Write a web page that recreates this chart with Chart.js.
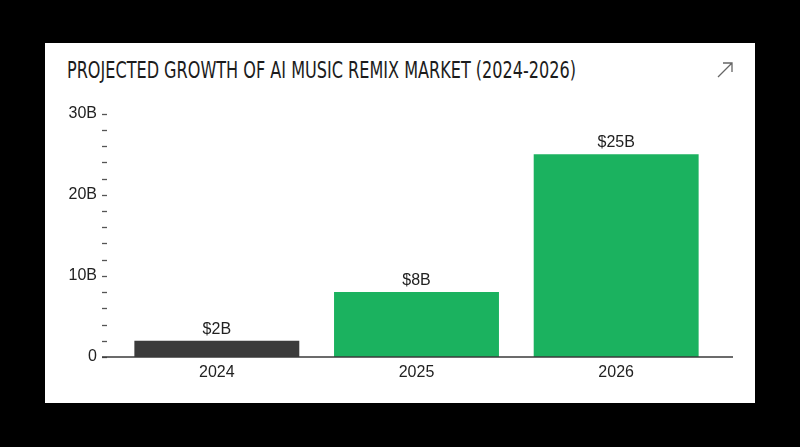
<!DOCTYPE html>
<html>
<head>
<meta charset="utf-8">
<script src="https://cdn.jsdelivr.net/npm/chart.js@4"></script>
<style>
  html, body { margin: 0; padding: 0; background: #000; width: 800px; height: 447px; overflow: hidden; }
  #card { position: absolute; left: 45px; top: 43px; width: 710px; height: 360px; background: #fff; }
  #title { position: absolute; left: 22px; top: 14px; font-family: "Liberation Sans Narrow", "DejaVu Sans Condensed", sans-serif;
           font-size: 23px; color: #1c1c1c; white-space: nowrap; transform-origin: 0 0; }
  #icon { position: absolute; left: 671px; top: 18px; }
  #wrap { position: absolute; left: 0; top: 41px; width: 710px; height: 316px; }
</style>
</head>
<body>
<div id="card">
  <div id="title">PROJECTED GROWTH OF AI MUSIC REMIX MARKET (2024-2026)</div>
  <svg id="icon" width="18" height="18" viewBox="0 0 18 18">
    <path d="M2 16 L16 2 M7 2 L16 2 L16 11" fill="none" stroke="#666" stroke-width="1.3"/>
  </svg>
  <div id="wrap"><canvas id="chart"></canvas></div>
</div>
<script>
const years = ['2024', '2025', '2026'];
const marketSize = [2, 8, 25]; // billions USD
const valueLabels = ['$2B', '$8B', '$25B'];
const barColors = ['#3b3b3b', '#1bb25f', '#1bb25f'];

const fontFamily = '"Liberation Sans", Arial, sans-serif';

// squeeze the title to the condensed width of the original
const title = document.getElementById('title');
title.style.transform = 'scaleX(' + (509 / title.offsetWidth) + ')';

// y tick dashes, baseline and value labels
const extras = {
    id: 'extras',
    afterDatasetsDraw(chart) {
        const ctx = chart.ctx;
        const area = chart.chartArea;
        const y = chart.scales.y;
        ctx.save();
        ctx.strokeStyle = '#555';
        ctx.lineWidth = 1.3;
        y.ticks.forEach(t => {
            const py = Math.round(y.getPixelForValue(t.value)) + 0.5;
            ctx.beginPath();
            ctx.moveTo(area.left - 15, py);
            ctx.lineTo(area.left - 10, py);
            ctx.stroke();
        });
        // x baseline
        ctx.strokeStyle = '#3a3a3a';
        ctx.lineWidth = 1.5;
        const by = y.getPixelForValue(0);
        ctx.beginPath();
        ctx.moveTo(area.left - 15, by);
        ctx.lineTo(area.right + 17, by);
        ctx.stroke();
        // value labels
        ctx.fillStyle = '#222';
        ctx.font = '16px ' + fontFamily;
        ctx.textAlign = 'center';
        ctx.textBaseline = 'alphabetic';
        chart.getDatasetMeta(0).data.forEach((bar, i) => {
            ctx.fillText(valueLabels[i], bar.x, bar.y - 7);
        });
        ctx.restore();
    }
};

new Chart(document.getElementById('chart'), {
    type: 'bar',
    data: {
        labels: years,
        datasets: [{
            data: marketSize,
            backgroundColor: barColors,
            borderWidth: 0,
            categoryPercentage: 1,
            barPercentage: 0.826
        }]
    },
    options: {
        responsive: true,
        maintainAspectRatio: false,
        animation: false,
        layout: { padding: { top: 12, right: 39, bottom: 0, left: 0 } },
        plugins: {
            legend: { display: false },
            tooltip: { enabled: false }
        },
        scales: {
            x: {
                grid: { display: false, drawTicks: false },
                border: { display: false },
                ticks: { color: '#222', font: { size: 16, family: fontFamily }, padding: 6 },
                afterFit: (s) => { s.height = 43; }
            },
            y: {
                min: 0,
                max: 30,
                grid: { display: false, drawTicks: false },
                border: { display: false },
                ticks: {
                    stepSize: 2,
                    autoSkip: false,
                    color: '#222',
                    font: { size: 16, family: fontFamily },
                    padding: 20,
                    callback: (v) => v === 0 ? '0' : (v % 10 === 0 ? v + 'B' : '')
                },
                afterFit: (s) => { s.width = 72; }
            }
        }
    },
    plugins: [extras]
});
</script>
</body>
</html>
